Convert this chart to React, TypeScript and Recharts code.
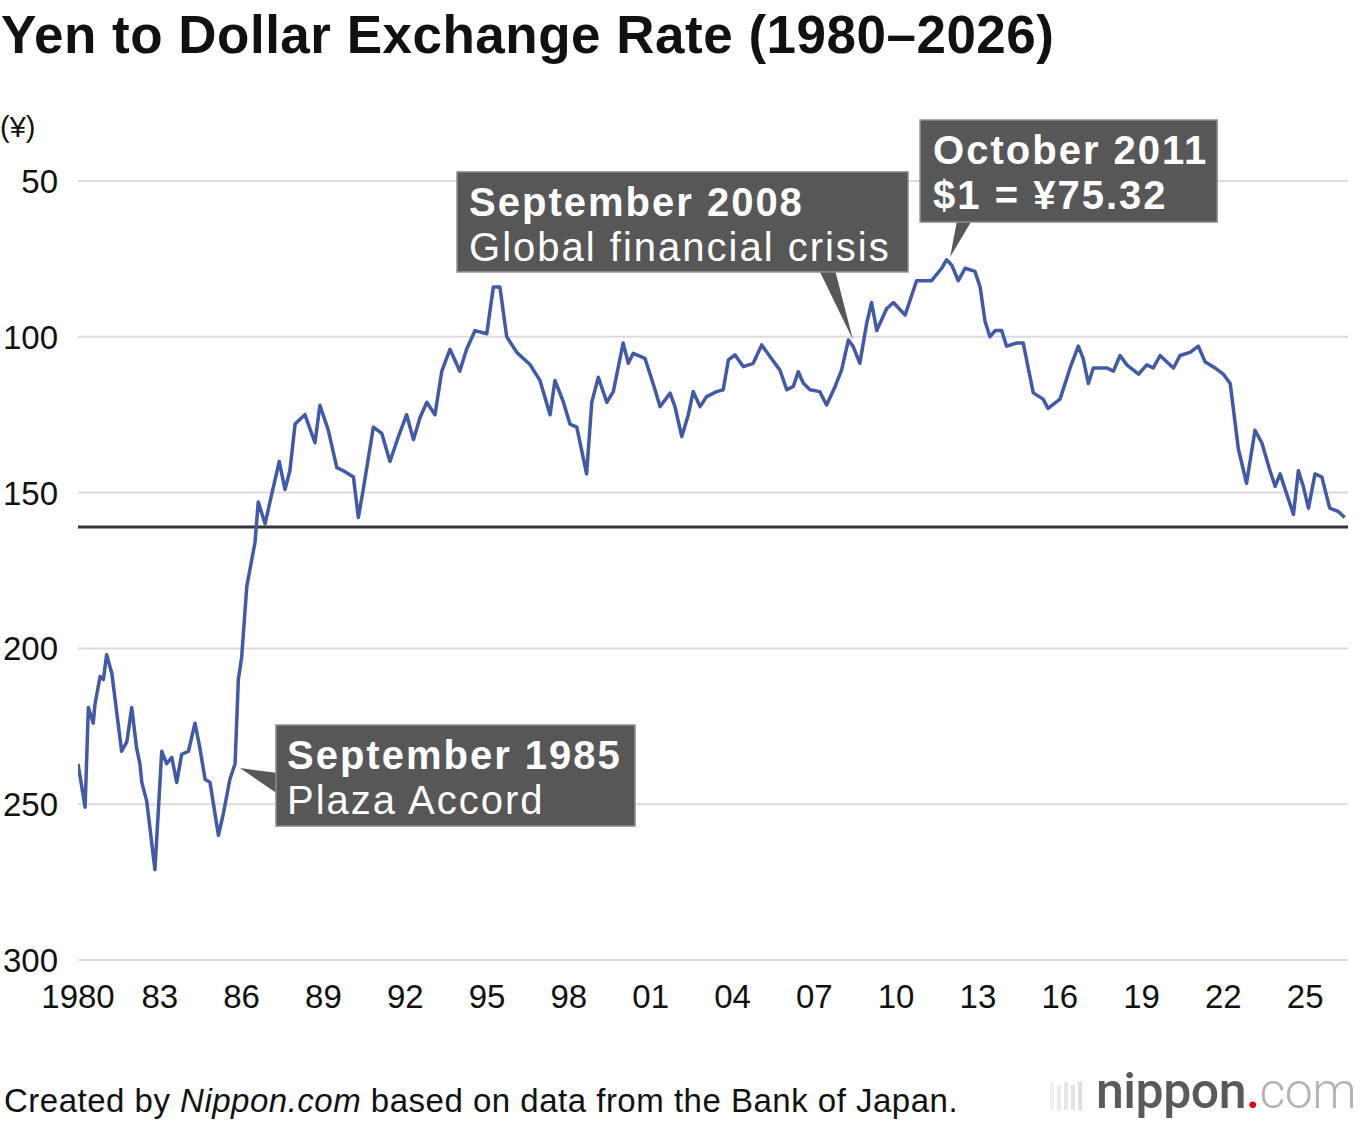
import React from "react"
import { LineChart, Line, XAxis, YAxis, CartesianGrid, ReferenceLine, ReferenceDot } from "recharts"

// monthly-ish readings of the yen/dollar rate (¥ per $1)
const years = [
  1980.0, 1980.26, 1980.38, 1980.56, 1980.62, 1980.81, 1980.93, 1981.05, 1981.24, 1981.6,
  1981.79, 1981.97, 1982.15, 1982.27, 1982.34, 1982.52, 1982.82, 1982.94, 1983.07, 1983.25,
  1983.44, 1983.62, 1983.8, 1984.05, 1984.29, 1984.47, 1984.66, 1984.84, 1985.15, 1985.33,
  1985.57, 1985.76, 1985.88, 1986.0, 1986.19, 1986.49, 1986.61, 1986.86, 1987.04, 1987.38,
  1987.59, 1987.77, 1987.96, 1988.32, 1988.69, 1988.87, 1989.18, 1989.49, 1989.73, 1990.1,
  1990.28, 1990.46, 1990.83, 1991.14, 1991.44, 1991.75, 1992.05, 1992.3, 1992.54, 1992.79,
  1993.09, 1993.34, 1993.64, 1994.0, 1994.25, 1994.56, 1994.99, 1995.23, 1995.47, 1995.72,
  1996.09, 1996.58, 1996.94, 1997.31, 1997.49, 1997.8, 1998.04, 1998.29, 1998.65, 1998.84,
  1999.08, 1999.39, 1999.63, 1999.99, 2000.18, 2000.36, 2000.79, 2001.16, 2001.34, 2001.71,
  2001.89, 2002.14, 2002.38, 2002.56, 2002.81, 2003.05, 2003.42, 2003.66, 2003.85, 2004.09,
  2004.4, 2004.76, 2005.07, 2005.38, 2005.74, 2005.99, 2006.23, 2006.41, 2006.6, 2006.84,
  2007.2, 2007.45, 2007.76, 2008.0, 2008.25, 2008.43, 2008.67, 2008.92, 2009.1,
  2009.29, 2009.65, 2009.9, 2010.33, 2010.75, 2011.3, 2011.67, 2011.85, 2012.04, 2012.28,
  2012.53, 2012.89, 2013.08, 2013.26, 2013.44, 2013.63, 2013.87, 2014.05, 2014.42, 2014.66,
  2015.03, 2015.39, 2015.57, 2016.01, 2016.38, 2016.68, 2016.86, 2017.05, 2017.23, 2017.72,
  2017.97, 2018.21, 2018.46, 2018.89, 2019.19, 2019.43, 2019.68, 2019.92, 2020.17, 2020.41,
  2020.78, 2021.08, 2021.33, 2021.69, 2022.0, 2022.25, 2022.55, 2022.85, 2023.16, 2023.41,
  2023.71, 2023.9, 2024.08, 2024.57, 2024.75, 2024.93, 2025.12, 2025.36, 2025.61, 2025.9,
  2026.2, 2026.45,
]

const rates = [
  237, 251, 219, 224, 218, 209, 210, 202, 208, 233,
  230, 219, 232, 237, 243, 249, 271, 253, 233, 237,
  235, 243, 234, 233, 224, 232, 242, 243, 260, 253,
  242, 237, 210, 203, 180, 166, 153, 160, 153, 140,
  149, 143, 128, 125, 134, 122, 130, 142, 143, 145,
  158, 149, 129, 131, 140, 132, 125, 133, 126, 121,
  125, 111, 104, 111, 104, 98, 99, 84, 84, 100,
  105, 109, 114, 125, 114, 121, 128, 129, 144, 121,
  113, 121, 117.6, 102, 108.5, 105.3, 106.9, 117, 122.4, 118.1,
  122.4, 132, 125, 117.6, 122.4, 119.2, 117.6, 117, 107.4, 105.8,
  109.6, 108.5, 102.6, 106.4, 110.7, 117, 115.9, 111.2, 114.9, 117,
  117.6, 121.9, 116, 110.7, 101, 103.2, 108.5, 95.7, 89,
  98, 91, 89, 93, 82, 82, 78, 75.3, 77, 82,
  78, 79, 84, 95, 100, 98, 98, 103, 102, 102,
  118, 120, 123, 120, 110, 103, 107, 115, 110, 110,
  111, 106, 109, 112, 109, 110, 106, 108, 110, 106,
  105, 103, 108, 110, 112, 115, 136, 147, 130, 134,
  143, 148, 144, 157, 143, 148, 155, 144, 145, 155,
  156, 158,
]

const xTicks = [1980, 1983, 1986, 1989, 1992, 1995, 1998, 2001, 2004, 2007, 2010, 2013, 2016, 2019, 2022, 2025]
const yTicks = [50, 100, 150, 200, 250, 300]
const latestLevel = 161

const data = years.map((year, i) => ({ year, rate: rates[i] }))

const FONT = "'Liberation Sans', Arial, Helvetica, sans-serif"
const BOX = "#575757"
const LINE_BLUE = "#4059a8"

type CalloutSpec = {
  box: [number, number, number, number] // dx, dy, w, h from the pointer tip
  base: [number, number, number, number] // pointer base x1,y1,x2,y2
  lines: { text: string; bold: boolean }[]
  pad: number
}

const makeCallout = (spec: CalloutSpec) => (props: any) => {
  const { cx, cy } = props
  const [bx, by, bw, bh] = spec.box
  const [x1, y1, x2, y2] = spec.base
  return (
    <g>
      <polygon points={`${cx},${cy} ${cx + x1},${cy + y1} ${cx + x2},${cy + y2}`} fill={BOX} />
      <rect x={cx + bx} y={cy + by} width={bw} height={bh} fill={BOX} stroke="#8c8c8c" strokeWidth={1.5} />
      {spec.lines.map((l, i) => (
        <text
          key={i}
          x={cx + bx + spec.pad}
          y={cy + by + 44 + i * 45}
          fill="#fff"
          fontFamily={FONT}
          fontSize={40}
          fontWeight={l.bold ? 700 : 400}
          letterSpacing={2}
        >
          {l.text}
        </text>
      ))}
    </g>
  )
}

const plazaShape = makeCallout({
  box: [36, -43, 359, 101],
  base: [38, 5, 38, 26],
  lines: [
    { text: "September 1985", bold: true },
    { text: "Plaza Accord", bold: false },
  ],
  pad: 11,
})

const crisisShape = makeCallout({
  box: [-396, -168, 451, 100],
  base: [-34, -70, -18, -70],
  lines: [
    { text: "September 2008", bold: true },
    { text: "Global financial crisis", bold: false },
  ],
  pad: 12,
})

const peakShape = makeCallout({
  box: [-30, -137, 297, 102],
  base: [7, -37, 22, -37],
  lines: [
    { text: "October 2011", bold: true },
    { text: "$1 = ¥75.32", bold: true },
  ],
  pad: 13,
})

const XTick = ({ x, y, payload }: any) => {
  const v = payload.value as number
  const label = v === 1980 ? "1980" : String(v % 100).padStart(2, "0")
  return (
    <text x={x} y={y + 48} textAnchor="middle" fontFamily={FONT} fontSize={33} fill="#111">
      {label}
    </text>
  )
}

const YTick = ({ x, y, payload }: any) => (
  <text x={x} y={y + 12} textAnchor="end" fontFamily={FONT} fontSize={33} fill="#111">
    {payload.value}
  </text>
)

export default function App() {
  return (
    <div style={{ position: "absolute", left: 0, top: 0, width: 1360, height: 1126, background: "#fff", fontFamily: FONT }}>
      <svg width={1360} height={1126} style={{ position: "absolute", left: 0, top: 0 }}>
        <text x={1} y={53} fontFamily={FONT} fontSize={53} fontWeight={700} letterSpacing={0.5} fill="#111">
          Yen to Dollar Exchange Rate (1980–2026)
        </text>
        <text x={0} y={137} fontFamily={FONT} fontSize={29} fill="#111">
          (¥)
        </text>
        <text x={4} y={1112} fontFamily={FONT} fontSize={33} letterSpacing={0.5} fill="#111">
          Created by <tspan fontStyle="italic">Nippon.com</tspan> based on data from the Bank of Japan.
        </text>
        <g opacity={0.5}>
          {[0, 7, 14, 21, 28].map((d, i) => (
            <rect key={i} x={1050 + d} y={1082 + (i % 2) * 3} width={4} height={28 - (i % 2) * 3} fill="#b5b5b5" opacity={0.4 + i * 0.12} />
          ))}
        </g>
        <text x={1096} y={1108} fontFamily="Roboto, 'Liberation Sans', sans-serif" fontSize={50} letterSpacing={-0.5}>
          <tspan fill="#5a5a5a" fontWeight={500}>nippon</tspan>
          <tspan fill="#e60012" fontWeight={500}>.</tspan>
          <tspan fill="#b3b3b3" fontWeight={300}>com</tspan>
        </text>
      </svg>
      <div style={{ position: "absolute", left: 0, top: 0 }}>
        <LineChart width={1360} height={1126} data={data} margin={{ top: 181, right: 12, bottom: 126, left: 0 }}>
          <CartesianGrid horizontal vertical={false} stroke="#dcdcdc" strokeWidth={2} />
          <XAxis
            dataKey="year"
            type="number"
            domain={[1980, 2026.57]}
            ticks={xTicks}
            height={40}
            axisLine={false}
            tickLine={false}
            tickSize={0}
            tickMargin={0}
            tick={<XTick />}
            allowDataOverflow
          />
          <YAxis
            reversed
            type="number"
            domain={[50, 300]}
            ticks={yTicks}
            width={78}
            axisLine={false}
            tickLine={false}
            tickSize={0}
            tickMargin={20}
            tick={<YTick />}
            interval={0}
          />
          <ReferenceLine y={latestLevel} stroke="#333" strokeWidth={3} />
          <Line
            type="linear"
            dataKey="rate"
            stroke={LINE_BLUE}
            strokeWidth={3.5}
            strokeLinejoin="round"
            dot={false}
            isAnimationActive={false}
          />
          <ReferenceDot x={1985.94} y={238.4} r={0} shape={plazaShape} />
          <ReferenceDot x={2008.42} y={101} r={0} shape={crisisShape} />
          <ReferenceDot x={2011.98} y={74.4} r={0} shape={peakShape} />
        </LineChart>
      </div>
    </div>
  )
}
